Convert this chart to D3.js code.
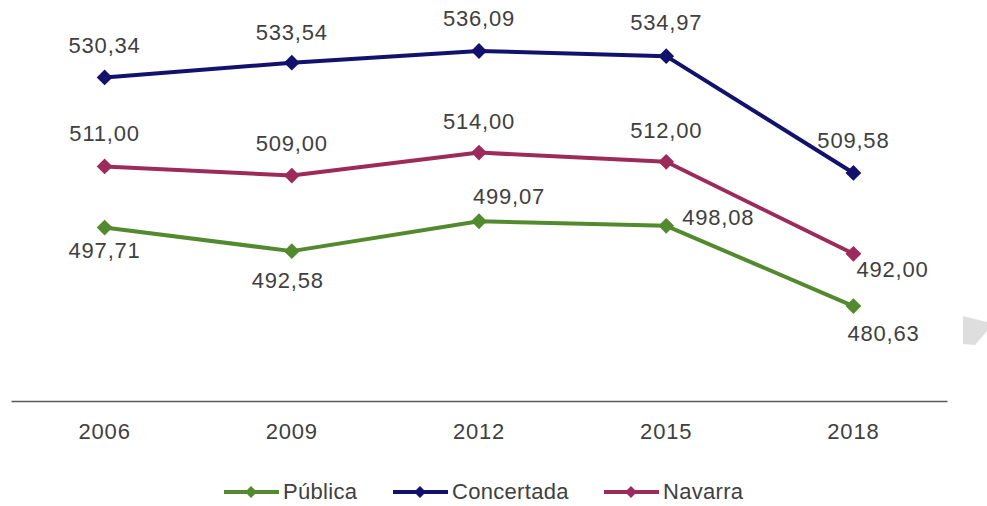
<!DOCTYPE html>
<html>
<head>
<meta charset="utf-8">
<script src="https://cdn.jsdelivr.net/npm/d3@7"></script>
<style>
  body { margin: 0; background: #fff; }
  text { font-family: "Liberation Sans", Arial, sans-serif; fill: #404040; }
</style>
</head>
<body>
<svg id="chart" width="987" height="506"></svg>
<script>
const years = ['2006', '2009', '2012', '2015', '2018'];
const publica = [497.71, 492.58, 499.07, 498.08, 480.63];
const concertada = [530.34, 533.54, 536.09, 534.97, 509.58];
const navarra = [511.0, 509.0, 514.0, 512.0, 492.0];
const seriesNames = ['Pública', 'Concertada', 'Navarra'];

// label placement per series/point: [dx, dy, anchor]
const labelPos = {
  'Pública': [[0, 30, 'middle'], [-4, 37, 'middle'], [-6, -17, 'start'], [16, -1, 'start'], [-6, 35, 'start']],
  'Concertada': [[0, -24, 'middle'], [0, -23, 'middle'], [0, -25, 'middle'], [0, -26, 'middle'], [0, -25, 'middle']],
  'Navarra': [[0, -25, 'middle'], [0, -25, 'middle'], [0, -24, 'middle'], [0, -24, 'middle'], [3, 23, 'start']],
};

const colors = { 'Pública': '#548a2f', 'Concertada': '#12126e', 'Navarra': '#9c2b5c' };

const series = [
  { name: 'Pública', values: publica },
  { name: 'Concertada', values: concertada },
  { name: 'Navarra', values: navarra },
];

const svg = d3.select('#chart');
const fmt = (v) => d3.format('.2f')(v).replace('.', ',');

const xScale = d3.scaleBand().domain(years).range([11, 947]);
const yScale = d3.scaleLinear().domain([460, 540]).range([401, 33]);
const cx = (d) => xScale(d) + xScale.bandwidth() / 2;

// x axis
const xAxis = svg
  .append('g')
  .attr('transform', 'translate(0,401)')
  .call(d3.axisBottom(xScale).tickSize(0).tickPadding(22));
xAxis.select('.domain').attr('stroke', '#595959').attr('stroke-width', 1.5);
xAxis
  .selectAll('text')
  .attr('font-size', '22px')
  .attr('letter-spacing', '0.8px')
  .style('font-family', '"Liberation Sans", Arial, sans-serif')
  .attr('fill', '#404040');

const line = d3
  .line()
  .x((d, i) => cx(years[i]))
  .y((d) => yScale(d));

// square rotated 45deg = diamond marker
const marker = d3.symbol().type(d3.symbolSquare).size(125);

// lines
series.forEach((s) => {
  const g = svg.append('g');
  g.append('path')
    .attr('d', line(s.values))
    .attr('fill', 'none')
    .attr('stroke', colors[s.name])
    .attr('stroke-width', 4)
    .attr('stroke-linejoin', 'round');

  g.selectAll('.pt')
    .data(s.values)
    .enter()
    .append('path')
    .attr('class', 'pt')
    .attr('d', marker)
    .attr('transform', (d, i) => 'translate(' + cx(years[i]) + ',' + yScale(d) + ') rotate(45)')
    .attr('fill', colors[s.name]);
});

// value labels
series.forEach((s) => {
  svg
    .append('g')
    .selectAll('text')
    .data(s.values)
    .enter()
    .append('text')
    .attr('x', (d, i) => cx(years[i]) + labelPos[s.name][i][0])
    .attr('y', (d, i) => yScale(d) + labelPos[s.name][i][1])
    .attr('text-anchor', (d, i) => labelPos[s.name][i][2])
    .attr('font-size', '22px')
    .attr('letter-spacing', '0.8px')
    .text((d) => fmt(d));
});

// legend
const legendX = [224, 393, 604];
const legend = svg
  .selectAll('.legend')
  .data(seriesNames)
  .enter()
  .append('g')
  .attr('class', 'legend')
  .attr('transform', (d, i) => 'translate(' + legendX[i] + ',492)');

legend
  .append('line')
  .attr('x1', 0)
  .attr('x2', 55)
  .attr('stroke', (d) => colors[d])
  .attr('stroke-width', 4);
legend
  .append('path')
  .attr('d', d3.symbol().type(d3.symbolSquare).size(70))
  .attr('transform', 'translate(27,0) rotate(45)')
  .attr('fill', (d) => colors[d]);
legend
  .append('text')
  .attr('x', 59)
  .attr('y', 7)
  .attr('font-size', '22px')
  .attr('letter-spacing', '0.3px')
  .text((d) => d);

// grey corner shape at right edge
svg
  .append('path')
  .attr('d', 'M963,316 L987,322 L987,331 L975,345 L963,344 Z')
  .attr('fill', '#dedede');
</script>
</body>
</html>
